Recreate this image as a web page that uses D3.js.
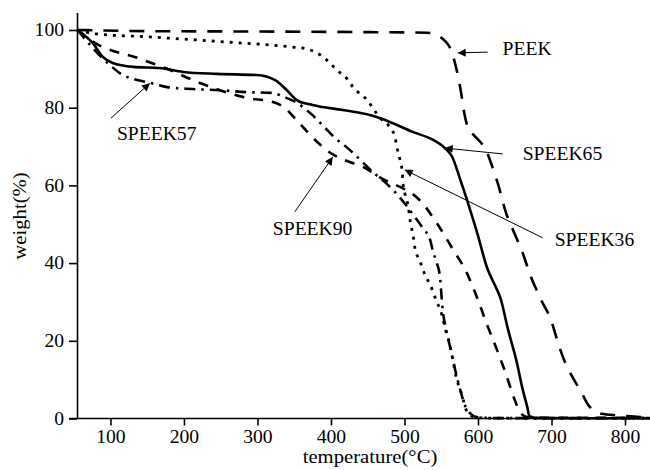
<!DOCTYPE html>
<html>
<head>
<meta charset="utf-8">
<script src="https://cdn.jsdelivr.net/npm/d3@7"></script>
<style>
  html, body { margin: 0; padding: 0; background: #fff; }
  svg text { font-family: "Liberation Serif", "Times New Roman", serif; fill: #000; }
</style>
</head>
<body>
<svg id="chart" width="650" height="470"></svg>
<script>
// Thermogravimetric curves: temperature (°C) vs remaining weight (%)
const peekT = [55, 150, 300, 480, 530, 545, 556, 563, 570, 576, 582, 587, 595, 612, 620, 627, 638, 650, 660, 672, 686, 700, 708, 716, 729, 740, 750, 768, 790, 820, 834];
const peekW = [100, 99.7, 99.6, 99.4, 99.3, 98.6, 97.0, 95.0, 90.5, 85.0, 78.0, 74.5, 72.8, 68.6, 64.5, 60.5, 53.0, 47.5, 43.0, 36.5, 30.5, 25.0, 20.0, 15.6, 10.5, 7.0, 3.5, 1.2, 0.8, 0.4, 0.2];

const s65T = [55, 76, 90, 103, 131, 167, 199, 245, 299, 324, 340, 354, 375, 416, 453, 467, 512, 539, 555, 565, 576, 586, 599, 612, 626, 630, 641, 653, 661, 667, 670, 684, 750, 834];
const s65W = [100, 96.6, 93.0, 91.5, 90.5, 90.2, 89.2, 88.7, 88.4, 87.1, 84.5, 81.9, 80.7, 79.4, 78.1, 77.3, 73.7, 71.7, 69.6, 67.3, 61.4, 55.7, 47.7, 39.0, 33.1, 31.3, 22.8, 14.3, 7.3, 3.0, 0.6, 0.1, 0.05, 0.05];

const s36T = [55, 80, 154, 258, 348, 365, 381, 394, 408, 422, 430, 449, 467, 478, 487, 490, 494, 497, 498, 501, 505, 508, 512, 514, 521, 528, 535, 543, 551, 556, 562, 566, 570, 576, 580, 584, 592, 610, 700, 834];
const s36W = [100, 99.0, 98.2, 96.9, 95.6, 95.2, 94.1, 92.3, 89.7, 87.4, 85.3, 82.0, 77.3, 75.5, 72.4, 69.6, 66.5, 63.4, 60.6, 57.5, 54.7, 50.6, 46.7, 44.1, 40.5, 36.9, 34.4, 30.5, 26.6, 22.7, 18.8, 14.9, 10.9, 7.3, 4.8, 2.2, 0.6, 0.1, 0.05, 0.05];

const s90T = [55, 76, 140, 181, 212, 249, 286, 320, 337, 354, 384, 403, 419, 444, 473, 494, 507, 518, 544, 565, 585, 600, 612, 626, 637, 650, 657, 667, 700, 834];
const s90W = [100, 97.0, 92.6, 89.7, 87.1, 84.5, 82.5, 81.5, 80.0, 76.6, 70.7, 67.9, 66.5, 64.7, 61.4, 59.6, 58.3, 56.7, 50.3, 43.8, 37.4, 30.5, 24.3, 17.6, 12.0, 4.8, 1.7, 0.4, 0.2, 0.2];

const s57T = [55, 99, 116, 131, 154, 177, 212, 249, 286, 320, 337, 354, 373, 392, 405, 424, 444, 457, 473, 487, 501, 512, 525, 535, 539, 544, 548, 552, 557, 563, 569, 576, 581, 589, 598, 623, 834];
const s57W = [100, 91.0, 88.5, 87.4, 86.4, 85.3, 84.8, 84.5, 84.0, 83.8, 82.7, 81.2, 78.4, 74.8, 72.3, 69.4, 65.8, 63.4, 60.9, 58.3, 55.2, 52.4, 49.0, 45.9, 42.9, 40.0, 36.9, 27.9, 22.7, 17.6, 12.5, 7.3, 4.0, 1.4, 0.4, 0.1, 0.1];

const xTicks = [100, 200, 300, 400, 500, 600, 700, 800];
const yTicks = [0, 20, 40, 60, 80, 100];

// Series styles (stroke patterns)
const series = [
  { name: "PEEK",    T: peekT, W: peekW, dash: "15,11",   width: 2.6 },
  { name: "SPEEK65", T: s65T,  W: s65W,  dash: null,      width: 2.6 },
  { name: "SPEEK36", T: s36T,  W: s36W,  dash: "3,6",     width: 2.8 },
  { name: "SPEEK90", T: s90T,  W: s90W,  dash: "10,9",    width: 2.6 },
  { name: "SPEEK57", T: s57T,  W: s57W,  dash: "11,6,2.5,6", width: 2.6 }
];

// Callouts: label anchor, arrow tail and arrow tip in data units
const callNames = ["PEEK", "SPEEK65", "SPEEK36", "SPEEK90", "SPEEK57"];
const callTipT  = [572.4, 554.7, 500.4, 402.5, 153.7];
const callTipW  = [94.1, 69.6, 64.0, 67.3, 86.3];
const callTailT = [613.2, 633.6, 688.0, 350.8, 100.7];
const callTailW = [94.3, 68.1, 46.5, 53.2, 77.3];
const callTextT = [633.5, 660.8, 704.3, 320.9, 108.8];
const callTextW = [93.6, 66.5, 44.4, 47.2, 71.7];

const WIDE = 1.09; // horizontal stretch of the serif lettering

const svg = d3.select("#chart");
const x = d3.scaleLinear().domain([54.5, 834]).range([77, 650]);
const y = d3.scaleLinear().domain([0, 104.5]).range([418.5, 12.5]);

// Axes
const xAxis = d3.axisBottom(x).tickValues(xTicks).tickSize(7).tickPadding(5).tickSizeOuter(0);
const yAxis = d3.axisLeft(y).tickValues(yTicks).tickSize(8).tickPadding(5).tickSizeOuter(0);

const gx = svg.append("g").attr("transform", `translate(0,${y(0)})`).call(xAxis);
const gy = svg.append("g").attr("transform", `translate(${x(54.5)},0)`).call(yAxis);
[gx, gy].forEach(g => {
  g.select(".domain").attr("stroke", "#000").attr("stroke-width", 1.6);
  g.selectAll(".tick line").attr("stroke", "#000").attr("stroke-width", 1.6);
  g.selectAll(".tick text").attr("font-family", "Liberation Serif, Times New Roman, serif")
    .attr("font-size", 18).attr("fill", "#000");
});
gx.selectAll(".tick text").attr("transform", `scale(${WIDE},1)`);
gy.selectAll(".tick text").attr("x", -13 / WIDE).attr("transform", `scale(${WIDE},1)`);
// y=0 tick continues the x axis line to the left
gx.select(".domain").attr("d", `M${x(54.5) - 8},0H650`);

// Axis titles
svg.append("text")
  .attr("transform", `translate(370,463) scale(${WIDE},1)`)
  .attr("text-anchor", "middle")
  .attr("font-size", 19)
  .text("temperature(°C)");
svg.append("text")
  .attr("transform", `translate(26,216) rotate(-90) scale(${WIDE},1)`)
  .attr("text-anchor", "middle")
  .attr("font-size", 19)
  .text("weight(%)");

// Curves
const line = d3.line().curve(d3.curveMonotoneX);
const curves = svg.append("g").attr("fill", "none").attr("stroke", "#000");
series.forEach(s => {
  const pts = s.T.map((t, i) => [x(t), y(s.W[i])]);
  curves.append("path")
    .attr("d", line(pts))
    .attr("stroke-width", s.width)
    .attr("stroke-dasharray", s.dash)
    .attr("stroke-linejoin", "round");
});

// Arrow callouts
svg.append("defs").append("marker")
  .attr("id", "arrowhead")
  .attr("markerUnits", "userSpaceOnUse")
  .attr("viewBox", "0 0 10 10")
  .attr("refX", 10).attr("refY", 5)
  .attr("markerWidth", 10).attr("markerHeight", 8)
  .attr("orient", "auto")
  .append("path").attr("d", "M0,0L10,5L0,10z").attr("fill", "#000");

const calls = svg.append("g");
callNames.forEach((name, i) => {
  calls.append("line")
    .attr("x1", x(callTailT[i])).attr("y1", y(callTailW[i]))
    .attr("x2", x(callTipT[i])).attr("y2", y(callTipW[i]))
    .attr("stroke", "#000").attr("stroke-width", 1)
    .attr("marker-end", "url(#arrowhead)");
  calls.append("text")
    .attr("transform", `translate(${x(callTextT[i])},${y(callTextW[i])}) scale(${WIDE},1)`)
    .attr("font-size", 18)
    .text(name);
});
</script>
</body>
</html>
